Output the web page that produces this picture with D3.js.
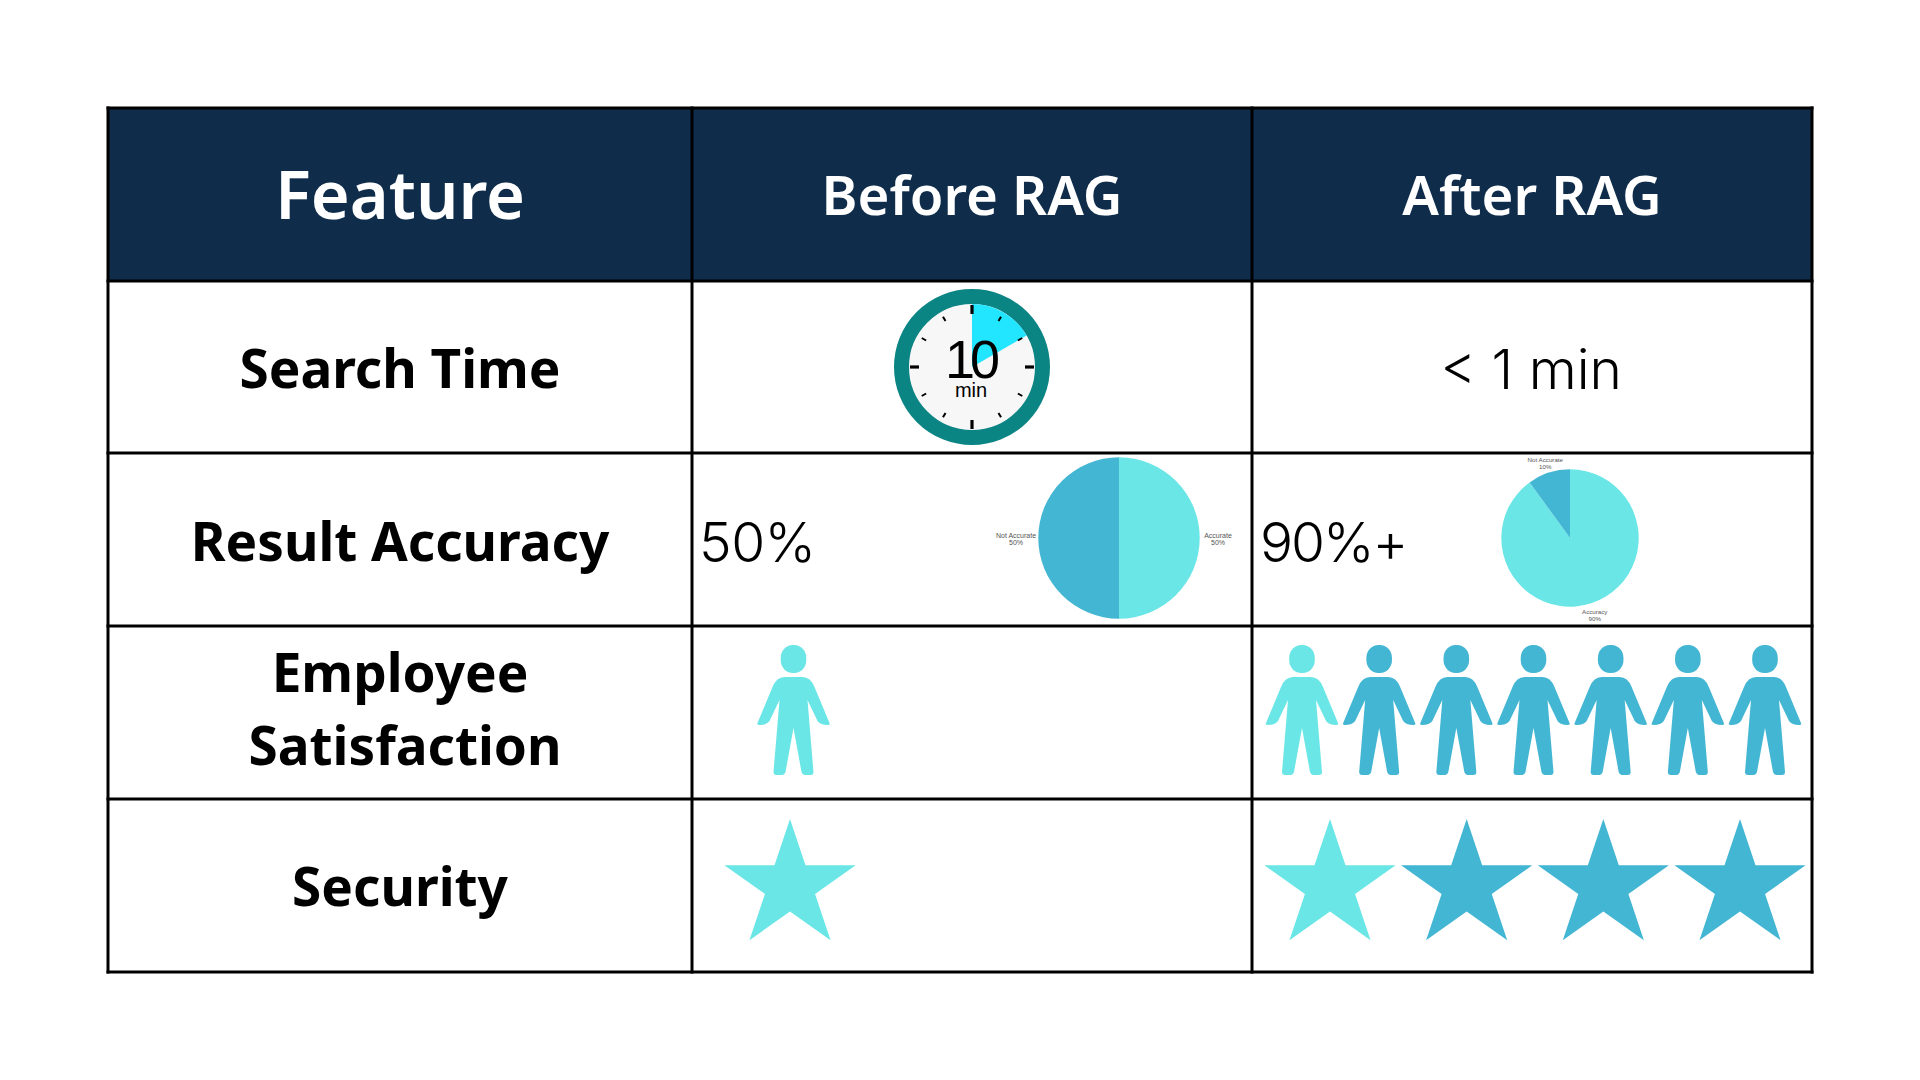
<!DOCTYPE html>
<html lang="en">
<head>
<meta charset="utf-8">
<title>Feature comparison, before and after RAG</title>
<script src="https://cdn.jsdelivr.net/npm/d3@7"></script>
<style>
    html, body { margin: 0; background: #fff; }
    svg { display: block; }
    .head { fill: #fff; font-family: "Noto Sans", sans-serif; font-weight: 600; text-anchor: middle; }
    .rowlabel { fill: #000; font-family: "Noto Sans", sans-serif; font-weight: 700; font-size: 53.1px; text-anchor: middle; }
    .val { fill: #000; font-family: "Inter", sans-serif; font-weight: 300; font-size: 55px; }
    .pielabel { fill: #555; font-family: "Liberation Sans", sans-serif; text-anchor: middle; }
</style>
</head>
<body>
<script>
    var headers = ['Feature', 'Before RAG', 'After RAG'];
    var rowLabels = [['Search Time'], ['Result Accuracy'], ['Employee', 'Satisfaction'], ['Security']];
    var searchAfter = '< 1 min';
    var timerMinutes = 10;
    var timerTotal = 60;
    var timerTicks = d3.range(0, 60, 5);
    var accuracyBeforeText = '50%';
    var accuracyAfterText = '90%+';
    var accuracyBeforeNames = ['Accurate', 'Not Accurate'];
    var accuracyBeforeValues = [50, 50];
    var accuracyAfterNames = ['Accuracy', 'Not Accurate'];
    var accuracyAfterValues = [90, 10];
    var peopleBefore = 1;
    var peopleAfter = 7;
    var starsBefore = 1;
    var starsAfter = 4;

    var colX = [108, 692, 1252, 1812];
    var rowY = [108, 281, 453, 626, 799, 972];
    var light = '#6be6e6', dark = '#43b6d3';

    var svg = d3.select('body').append('svg').attr('width', 1920).attr('height', 1080);

    // header band
    svg.append('rect').attr('x', colX[0]).attr('y', rowY[0])
        .attr('width', colX[3] - colX[0]).attr('height', rowY[1] - rowY[0])
        .attr('fill', '#0f2d4b');

    // grid
    svg.selectAll('.vline').data(colX).enter().append('line')
        .attr('x1', function (d) { return d; }).attr('x2', function (d) { return d; })
        .attr('y1', rowY[0] - 1.5).attr('y2', rowY[5] + 1.5)
        .attr('stroke', '#000').attr('stroke-width', 3);
    svg.selectAll('.hline').data(rowY).enter().append('line')
        .attr('y1', function (d) { return d; }).attr('y2', function (d) { return d; })
        .attr('x1', colX[0] - 1.5).attr('x2', colX[3] + 1.5)
        .attr('stroke', '#000').attr('stroke-width', 3);

    // header text
    svg.selectAll('.head').data(headers).enter().append('text')
        .attr('class', 'head')
        .attr('x', function (d, i) { return (colX[i] + colX[i + 1]) / 2; })
        .attr('y', function (d, i) { return i === 0 ? 219 : 215; })
        .style('font-size', function (d, i) { return i === 0 ? '66.7px' : '54.6px'; })
        .text(function (d) { return d; });

    // row labels
    var labelBase = [[388], [561], [692, 765], [906]];
    var labelX = [[400], [400], [400, 405], [400]];
    rowLabels.forEach(function (lines, r) {
        lines.forEach(function (t, i) {
            svg.append('text').attr('class', 'rowlabel')
                .attr('x', labelX[r][i]).attr('y', labelBase[r][i]).text(t);
        });
    });

    // plain values
    svg.append('text').attr('class', 'val').attr('x', 1531).attr('y', 389)
        .attr('text-anchor', 'middle').text(searchAfter);
    svg.append('text').attr('class', 'val').attr('x', 699).attr('y', 562)
        .attr('letter-spacing', -0.5).text(accuracyBeforeText);
    svg.append('text').attr('class', 'val').attr('x', 1260).attr('y', 562)
        .attr('letter-spacing', -2).text(accuracyAfterText);

    // timer
    var timer = svg.append('g').attr('transform', 'translate(972,367)');
    var angle = d3.scaleLinear().domain([0, timerTotal]).range([0, 2 * Math.PI]);
    timer.append('circle').attr('r', 70.5).attr('fill', '#f7f7f7')
        .attr('stroke', '#0b8484').attr('stroke-width', 15);
    timer.append('path')
        .attr('d', d3.arc()({ innerRadius: 0, outerRadius: 63, startAngle: 0, endAngle: angle(timerMinutes) }))
        .attr('fill', '#22e5ff');
    timer.selectAll('.tick').data(timerTicks).enter().append('line')
        .attr('x1', function (d) { return Math.sin(angle(d)) * 53; })
        .attr('y1', function (d) { return -Math.cos(angle(d)) * 53; })
        .attr('x2', function (d) { var r = d % 15 === 0 ? 62 : 58; return Math.sin(angle(d)) * r; })
        .attr('y2', function (d) { var r = d % 15 === 0 ? 62 : 58; return -Math.cos(angle(d)) * r; })
        .attr('stroke', '#000')
        .attr('stroke-width', function (d) { return d % 15 === 0 ? 3.2 : 2; });
    timer.append('text').attr('x', -2).attr('y', 11).attr('text-anchor', 'middle')
        .attr('font-family', 'Liberation Sans').attr('font-size', 54).attr('letter-spacing', -5)
        .attr('fill', '#000').text(timerMinutes);
    timer.append('text').attr('x', -1).attr('y', 30).attr('text-anchor', 'middle')
        .attr('font-family', 'Liberation Sans').attr('font-size', 20)
        .attr('fill', '#000').text('min');

    // pies
    function drawPie(cx, cy, radius, labelR, labelSize, labelShift, names, values) {
        var g = svg.append('g').attr('transform', 'translate(' + cx + ',' + cy + ')');
        var slices = d3.pie().sort(null)(values);
        var arc = d3.arc().innerRadius(0).outerRadius(radius);
        var labelArc = d3.arc().innerRadius(labelR).outerRadius(labelR);
        var color = d3.scaleOrdinal().domain([0, 1]).range([light, dark]);
        g.selectAll('path').data(slices).enter().append('path')
            .attr('d', arc)
            .attr('fill', function (d, i) { return color(i); });
        var t = g.selectAll('text').data(slices).enter().append('text')
            .attr('class', 'pielabel')
            .style('font-size', labelSize + 'px')
            .attr('transform', function (d) {
                var c = labelArc.centroid(d);
                return 'translate(' + (c[0] + labelShift) + ',' + c[1] + ')';
            });
        t.append('tspan').attr('x', 0).attr('dy', 0)
            .text(function (d, i) { return names[i]; });
        t.append('tspan').attr('x', 0).attr('dy', 7)
            .text(function (d) { return d.value + '%'; });
    }
    drawPie(1119, 538, 80.7, 101, 7, -2, accuracyBeforeNames, accuracyBeforeValues);
    drawPie(1570, 538, 68.7, 80, 6.2, 0, accuracyAfterNames, accuracyAfterValues);

    // people
    var bodyPath = 'M-9,32 L9,32 Q17,32 21,42 L36,78 Q37,80 34,80 Q27,80 24,76 L14,55 L20,127 Q20,130 17,130 L11,130 Q9,130 8,127 L0,83 ' +
        'L-8,127 Q-9,130 -11,130 L-17,130 Q-20,130 -20,127 L-14,55 L-24,76 Q-27,80 -34,80 Q-37,80 -36,78 L-21,42 Q-17,32 -9,32 Z';
    function drawPeople(count, x0, x1, top) {
        var x = d3.scalePoint().domain(d3.range(count)).range([x0, x1]);
        var g = svg.append('g').selectAll('g').data(d3.range(count)).enter().append('g')
            .attr('transform', function (d) { return 'translate(' + x(d) + ',' + top + ')'; })
            .attr('fill', function (d) { return d === 0 ? light : dark; });
        g.append('rect').attr('x', -12.8).attr('width', 25.6).attr('height', 28)
            .attr('rx', 12).attr('ry', 13);
        g.append('path').attr('d', bodyPath);
    }
    drawPeople(peopleBefore, 793.5, 793.5, 645);
    drawPeople(peopleAfter, 1302, 1765, 645);

    // stars
    function drawStars(count, x0, x1, cy) {
        var x = d3.scalePoint().domain(d3.range(count)).range([x0, x1]);
        svg.append('g').selectAll('path').data(d3.range(count)).enter().append('path')
            .attr('d', d3.symbol(d3.symbolStar, 5345))
            .attr('transform', function (d) { return 'translate(' + x(d) + ',' + cy + ') scale(1,0.97)'; })
            .attr('fill', function (d) { return d === 0 ? light : dark; });
    }
    drawStars(starsBefore, 790, 790, 886);
    drawStars(starsAfter, 1330, 1740, 886);
</script>
</body>
</html>
